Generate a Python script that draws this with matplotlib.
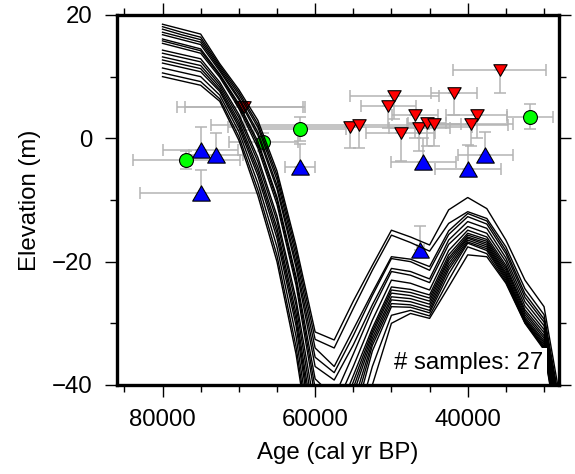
import numpy as np
import matplotlib.pyplot as plt
from matplotlib.path import Path
from matplotlib.ticker import MultipleLocator

plt.rcParams['font.family'] = ['Liberation Sans', 'DejaVu Sans']

# ==========================================
# Data
# ==========================================

# model curves (elevation in m at each age)
curve_ages = [80000, 77500, 75000, 72500, 70000, 67500, 65000, 62500, 60000, 57500, 55000,
              52500, 50000, 47500, 45000, 42500, 40000, 37500, 35000, 32500, 30000, 27500]

curves = [
    [18.5, 17.7, 16.9, 12.1, 7.9, 2.9, -5.3, -17.4, -31.4, -32.7, -26.4, -20.6, -14.9, -16.0, -17.3, -11.6, -9.6, -11.4, -16.5, -23.0, -27.3, -45.0],
    [18.1, 17.2, 16.4, 11.8, 7.5, 2.3, -6.0, -18.2, -32.6, -34.0, -27.6, -21.4, -15.7, -16.9, -18.3, -13.8, -11.9, -13.0, -17.6, -24.4, -28.6, -46.0],
    [17.7, 16.8, 16.0, 11.5, 7.1, 1.8, -6.7, -19.1, -34.0, -37.0, -31.0, -25.0, -19.2, -19.6, -20.8, -15.0, -12.2, -13.4, -18.2, -25.2, -29.3, -46.5],
    [17.2, 16.4, 15.6, 11.2, 6.6, 1.0, -7.6, -20.1, -35.5, -38.0, -32.0, -25.5, -19.5, -20.0, -21.4, -15.6, -12.7, -13.9, -18.7, -25.8, -29.8, -47.0],
    [16.8, 16.0, 15.2, 10.9, 6.3, 0.5, -8.2, -20.9, -37.0, -39.2, -33.5, -27.0, -21.1, -21.6, -22.8, -16.5, -13.5, -14.6, -19.4, -26.5, -30.4, -47.5],
    [16.1, 15.3, 14.5, 10.4, 5.6, -0.5, -9.5, -22.4, -39.0, -42.0, -35.0, -27.8, -21.6, -22.2, -23.4, -17.2, -14.3, -15.4, -20.0, -27.2, -31.0, -48.0],
    [15.8, 15.0, 14.2, 10.2, 5.3, -1.0, -10.0, -23.0, -40.5, -44.0, -37.0, -29.5, -23.0, -23.5, -24.6, -18.2, -14.9, -16.0, -20.6, -27.8, -31.5, -48.5],
    [15.4, 14.6, 13.8, 9.9, 4.9, -1.6, -10.7, -23.8, -42.0, -46.0, -38.5, -30.8, -24.1, -24.5, -25.4, -18.9, -15.4, -16.4, -21.0, -28.2, -32.0, -49.0],
    [14.3, 13.6, 12.9, 9.1, 3.9, -3.1, -12.6, -26.1, -44.0, -48.0, -39.5, -31.3, -24.6, -25.0, -25.9, -19.4, -15.7, -16.7, -21.4, -28.6, -32.4, -49.5],
    [13.8, 13.1, 12.4, 8.7, 3.4, -3.8, -13.4, -27.1, -46.0, -50.0, -40.5, -31.8, -25.1, -25.5, -26.4, -19.8, -16.0, -17.0, -21.8, -29.0, -32.8, -50.0],
    [13.2, 12.5, 11.8, 8.3, 2.8, -4.7, -14.5, -28.4, -48.0, -52.0, -41.5, -32.4, -25.7, -26.0, -26.9, -20.3, -16.2, -17.3, -22.1, -29.3, -33.1, -50.5],
    [12.7, 12.0, 11.3, 7.9, 2.3, -5.4, -15.3, -29.4, -49.5, -54.0, -43.0, -33.0, -26.2, -26.5, -27.4, -20.8, -16.5, -17.6, -22.4, -29.5, -33.4, -51.0],
    [12.2, 11.5, 10.8, 7.6, 1.8, -6.1, -16.2, -30.4, -51.0, -56.0, -44.5, -33.6, -26.8, -27.0, -27.9, -21.3, -16.8, -17.9, -22.7, -29.7, -33.7, -51.5],
    [11.4, 10.7, 10.0, 7.0, 1.1, -7.3, -17.6, -32.1, -53.0, -58.0, -46.0, -34.5, -27.3, -27.4, -28.3, -22.0, -17.0, -18.2, -23.0, -29.8, -33.9, -52.0],
    [10.6, 9.9, 9.2, 6.4, 0.3, -8.4, -19.0, -33.8, -54.0, -59.0, -48.0, -37.0, -28.7, -27.9, -28.8, -23.0, -17.6, -18.7, -23.3, -29.9, -34.1, -52.5],
    [10.0, 9.3, 8.6, 6.0, -0.3, -9.3, -20.0, -35.0, -55.0, -60.0, -50.0, -40.0, -30.0, -28.4, -29.2, -24.1, -18.9, -19.2, -23.5, -30.0, -34.3, -53.0],
]

# red: inverted triangles (error bar goes down)
age_red = [69700, 69300, 55400, 54200, 49600, 50400, 48800, 46900, 46350, 45300, 44400, 41800, 38800, 39600, 35800]
elev_red = [5.1, 5.1, 1.9, 2.2, 6.9, 5.3, 0.9, 3.7, 1.6, 2.5, 2.4, 7.3, 3.8, 2.4, 11.1]
xerr_red = [8400, 7700, 16000, 19500, 5800, 3600, 4500, 3000, 4000, 2500, 3500, 3000, 4000, 5500, 6100]
yerr_red = [3.7, 3.7, 3.5, 3.7, 3.7, 3.7, 4.5, 3.7, 3.7, 3.7, 3.7, 3.6, 3.7, 3.7, 3.8]

# blue: triangles (error bar goes up)
age_blue = [75000, 73000, 75000, 62000, 45800, 40000, 37700, 46200]
elev_blue = [-1.9, -2.7, -8.9, -4.7, -3.8, -4.9, -2.7, -18.1]
xerr_blue = [4900, 3500, 7900, 2000, 4200, 4300, 3600, 500]
yerr_blue = [3.8, 3.5, 3.8, 3.8, 3.8, 3.8, 3.8, 3.8]

# green: circles
age_green = [76900, 66800, 62000, 31800]
elev_green = [-3.5, -0.6, 1.5, 3.5]
xerr_green = [7000, 4500, 6000, 3000]
yerr_green = [1.5, 1.5, 2.0, 2.0]

n_samples = len(age_red) + len(age_blue) + len(age_green)

# ==========================================
# Markers
# ==========================================

tri_up = Path([(0, 0.433), (-0.5, -0.433), (0.5, -0.433), (0, 0.433)],
              [Path.MOVETO, Path.LINETO, Path.LINETO, Path.CLOSEPOLY])
tri_down = Path([(0, -0.433), (-0.5, 0.433), (0.5, 0.433), (0, -0.433)],
                [Path.MOVETO, Path.LINETO, Path.LINETO, Path.CLOSEPOLY])

bar_color = "#b4b4b4"

# ==========================================
# Plot
# ==========================================

fig = plt.figure(figsize=(5.75, 4.74), dpi=100)
ax = fig.add_axes([0.203, 0.1878, 0.7697, 0.7806])

ax.errorbar(age_red, elev_red, xerr=xerr_red, yerr=[yerr_red, np.zeros(len(yerr_red))],
            fmt="none", ecolor=bar_color, elinewidth=1.1, capsize=4, capthick=1.1, zorder=1)
ax.errorbar(age_blue, elev_blue, xerr=xerr_blue, yerr=[np.zeros(len(yerr_blue)), yerr_blue],
            fmt="none", ecolor=bar_color, elinewidth=1.1, capsize=4, capthick=1.1, zorder=1)
ax.errorbar(age_green, elev_green, xerr=xerr_green, yerr=yerr_green,
            fmt="none", ecolor=bar_color, elinewidth=1.1, capsize=4, capthick=1.1, zorder=1)

ax.plot(age_red, elev_red, linestyle="none", marker=tri_down, ms=9.6,
        mfc="red", mec="black", mew=0.8, zorder=2)
ax.plot(age_blue, elev_blue, linestyle="none", marker=tri_up, ms=12.7,
        mfc="blue", mec="black", mew=0.8, zorder=2)
ax.plot(age_green, elev_green, linestyle="none", marker="o", ms=10,
        mfc="#00ff00", mec="black", mew=0.8, zorder=2)

for c in curves:
    ax.plot(curve_ages, c, color="black", lw=1.0, zorder=3)

ax.text(0.963, 0.06, f"# samples: {n_samples}", transform=ax.transAxes,
        ha="right", va="center", fontsize=17.3, zorder=5,
        bbox=dict(facecolor="white", edgecolor="none", pad=3))

ax.set_xlim(86000, 28000)
ax.set_ylim(-40, 20)
ax.set_xticks([80000, 60000, 40000])
ax.xaxis.set_minor_locator(MultipleLocator(5000))
ax.set_yticks([-40, -20, 0, 20])
ax.yaxis.set_minor_locator(MultipleLocator(10))

ax.tick_params(which="both", direction="out", top=True, right=True,
               width=1.0, labelsize=17.3, pad=9)
ax.tick_params(which="major", length=8.5)
ax.tick_params(which="minor", length=4.8)

for s in ax.spines.values():
    s.set_linewidth(2.4)

ax.set_xlabel("Age (cal yr BP)", fontsize=17.3, labelpad=8)
ax.set_ylabel("Elevation (m)", fontsize=17.3, labelpad=8)

fig.savefig("out.png", dpi=100)
